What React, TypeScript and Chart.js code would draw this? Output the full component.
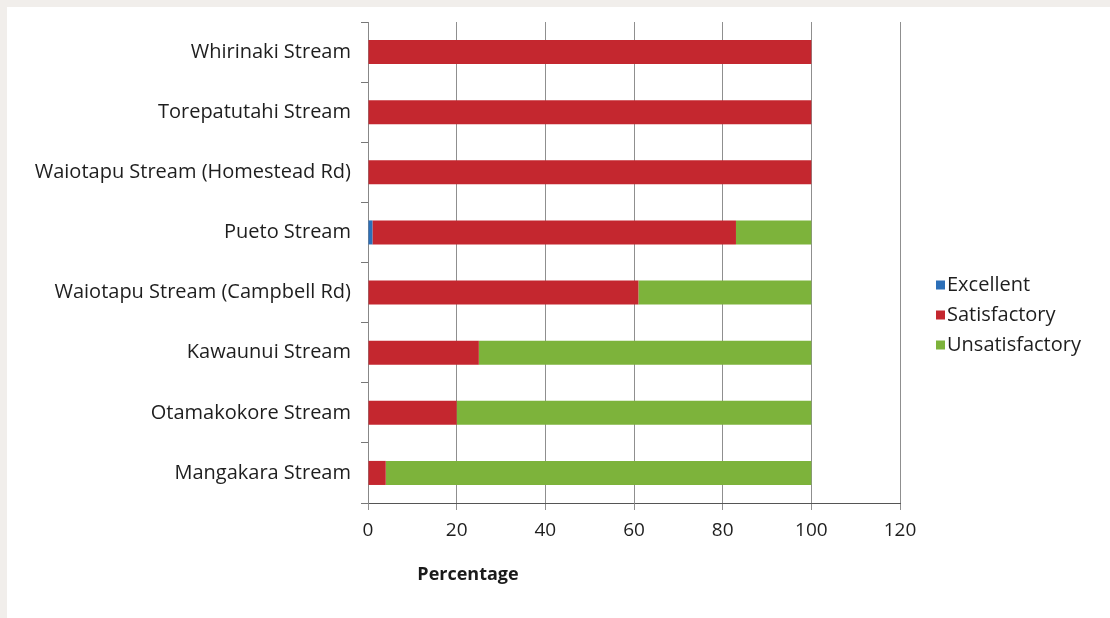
import React, { useEffect, useRef } from "react";
import { Chart, registerables } from "chart.js";

Chart.register(...registerables);

const categories = [
  "Whirinaki Stream",
  "Torepatutahi Stream",
  "Waiotapu Stream (Homestead Rd)",
  "Pueto Stream",
  "Waiotapu Stream (Campbell Rd)",
  "Kawaunui Stream",
  "Otamakokore Stream",
  "Mangakara Stream",
];
const excellent = [0, 0, 0, 1, 0, 0, 0, 0];
const satisfactory = [100, 100, 100, 82, 61, 25, 20, 4];
const unsatisfactory = [0, 0, 0, 17, 39, 75, 80, 96];
const seriesNames = ["Excellent", "Satisfactory", "Unsatisfactory"];
const seriesColors = ["#2c6fb8", "#c4272f", "#7db33b"];
const axisTitle = "Percentage";
const xMin = 0;
const xMax = 120;
const xStep = 20;

const FONT = "'Open Sans', Lato, sans-serif";

const axisTitlePlugin = {
  id: "axisTitlePlugin",
  afterDraw(chart: any) {
    const { ctx, chartArea } = chart;
    ctx.save();
    ctx.font = `bold 18px ${FONT}`;
    ctx.fillStyle = "#1a1a1a";
    ctx.textAlign = "center";
    ctx.textBaseline = "middle";
    ctx.fillText(axisTitle, chartArea.left + 100, chartArea.bottom + 72);
    ctx.restore();
  },
};

const sideLegendPlugin = {
  id: "sideLegendPlugin",
  afterDraw(chart: any) {
    const { ctx, chartArea } = chart;
    const x0 = chartArea.right + 36;
    const yMid = chartArea.top + 293;
    const step = 30;
    ctx.save();
    ctx.font = `20px ${FONT}`;
    ctx.textAlign = "left";
    ctx.textBaseline = "middle";
    chart.data.datasets.forEach((ds: any, i: number) => {
      const y = yMid + (i - 1) * step;
      ctx.fillStyle = ds.backgroundColor;
      ctx.fillRect(x0, y - 4.5, 9, 9);
      ctx.fillStyle = "#1e1e1e";
      ctx.fillText(ds.label, x0 + 11, y);
    });
    ctx.restore();
  },
};

export default function App() {
  const ref = useRef<HTMLCanvasElement | null>(null);

  useEffect(() => {
    document.body.style.margin = "0";
    const canvas = ref.current;
    if (!canvas) return;
    const chart = new Chart(canvas, {
      type: "bar",
      data: {
        labels: categories,
        datasets: [
          { label: seriesNames[0], data: excellent, backgroundColor: seriesColors[0] },
          { label: seriesNames[1], data: satisfactory, backgroundColor: seriesColors[1] },
          { label: seriesNames[2], data: unsatisfactory, backgroundColor: seriesColors[2] },
        ],
      },
      options: {
        indexAxis: "y",
        responsive: false,
        animation: false,
        layout: { padding: { top: 20, left: 0, bottom: 0, right: 210 } },
        datasets: {
          bar: { barPercentage: 0.4, categoryPercentage: 1 },
        },
        scales: {
          x: {
            stacked: true,
            min: xMin,
            max: xMax,
            ticks: {
              stepSize: xStep,
              color: "#1e1e1e",
              font: { family: FONT, size: 19 },
              padding: 9,
            },
            grid: {
              color: "#8f8f8f",
              lineWidth: 1,
              tickLength: 7,
              drawOnChartArea: true,
            },
            border: { color: "#555", width: 1 },
            afterFit: (scale: any) => {
              scale.height = 115;
            },
          },
          y: {
            stacked: true,
            ticks: {
              color: "#1e1e1e",
              font: { family: FONT, size: 20 },
              padding: 10,
            },
            grid: {
              color: "#777",
              drawOnChartArea: false,
              drawTicks: true,
              tickLength: 7,
            },
            border: { color: "#888", width: 1 },
            afterFit: (scale: any) => {
              scale.width = 368;
            },
          },
        },
        plugins: {
          legend: { display: false },
          tooltip: { enabled: false },
        },
      },
      plugins: [axisTitlePlugin, sideLegendPlugin],
    });
    return () => chart.destroy();
  }, []);

  return (
    <div style={{ position: "absolute", left: 0, top: 0, width: 1110, height: 618, background: "#f1eeeb", overflow: "hidden" }}>
      <div style={{ position: "absolute", left: 7, top: 7, right: 0, bottom: 0, background: "#ffffff" }} />
      <canvas ref={ref} width={1110} height={618} style={{ position: "absolute", left: 0, top: 0 }} />
    </div>
  );
}
